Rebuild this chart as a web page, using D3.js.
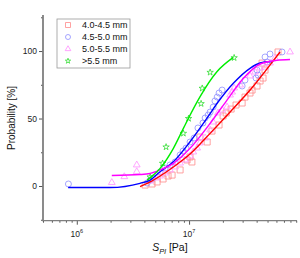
<!DOCTYPE html>
<html><head><meta charset="utf-8">
<script src="https://cdn.jsdelivr.net/npm/d3@7"></script>
<style>body{margin:0;background:#fff}svg{display:block;font-family:"Liberation Sans",Arial,sans-serif}</style>
</head><body>
<script>
// values: x in MPa (×1e6 Pa), y in %
const seriesNames = ["4.0-4.5 mm","4.5-5.0 mm","5.0-5.5 mm",">5.5 mm"];
const redX = [4.06,4.68,5.19,5.87,6.50,7.06,8.32,9.60,10.2,10.6,12.5,14.5,16.0,18.5,20.1,21.4,23.7,26.2,29.7,31.5,34.9,36.4,40.3,42.9,45.6,47.5,44.7,62.0];
const redY = [0.7,1.5,3.0,5.2,7.4,8.1,11.9,19.3,21.5,17.8,36.3,32.6,40.7,45.2,51.9,54.1,57.0,60.0,61.5,65.9,68.9,71.1,74.1,77.8,80.0,85.9,91.1,99.3];
const blueX = [0.842,4.23,4.50,4.78,5.52,6.11,6.77,7.51,8.32,8.84,9.40,10.2,11.1,12.0,13.3,13.9,14.8,15.4,16.4,17.0,17.8,18.5,19.7,29.7,31.5,39.5,41.2,40.3,47.5,49.5,52.6,67.3];
const blueY = [1.5,2.2,4.4,5.9,10.4,13.3,15.6,17.8,23.0,25.9,28.1,32.6,35.6,43.0,46.7,50.4,52.6,54.8,58.5,63.0,65.9,68.9,71.1,74.1,78.5,80.0,82.2,85.9,95.6,91.9,97.8,99.3];
const magX = [2.05,2.65,3.42,3.42,4.50,5.08,5.52,6.11,6.77,7.51,8.32,9.21,10.2,10.9,11.8,12.5,13.9,15.4,16.4,18.1,19.7,21.8,23.2,24.2,25.2,28.5,34.9,38.7,42.9,47.5,52.6,58.3,79.3];
const magY = [2.6,6.9,10.6,15.6,3.7,5.9,7.4,9.6,11.9,14.1,17.0,19.3,22.2,25.2,28.1,31.9,35.6,41.5,47.4,54.1,56.3,58.5,67.4,69.6,72.6,74.8,81.5,84.4,87.4,88.1,91.1,94.8,99.3];
const greenX = [4.50,5.81,6.24,8.90,9.90,12.8,13.1,15.4,25.2];
const greenY = [6.7,16.8,28.9,39.0,50.0,61.0,72.4,84.2,95.0];
// fitted curves
const redFitX = [3.66,4.50,5.52,7.25,10.2,15.4,23.2,36.2,48.5,64.6];
const redFitY = [-0.4,3.0,7.4,14.1,23.7,39.0,54.8,72.6,85.9,99.3];
const blueFitX = [0.837,1.98,3.66,4.50,5.52,7.25,10.2,14.4,18.2,24.8,34.9,42.9,54.5];
const blueFitY = [-1.1,-1.1,2.0,4.4,10.6,18.0,32.8,50.1,62.4,76.1,87.2,91.1,92.2];
const magFitX = [2.05,3.66,4.50,5.52,7.25,10.2,15.4,21.7,30.4,42.9,60.4,79.3];
const magFitY = [7.8,8.5,9.3,11.9,16.8,27.9,46.4,63.5,79.6,90.4,93.1,93.7];
const greenFitX = [4.23,5.52,7.25,8.90,9.86,12.5,17.7,24.8];
const greenFitY = [4.4,13.1,27.9,42.7,50.1,66.1,84.7,95.3];
const yTicks = [0,50,100];
const yMinor = [-25,25,75,125];
const xTickExps = [6,7];

const W=300,H=258;
const svg=d3.select("body").append("svg").attr("width",W).attr("height",H);
const x=d3.scaleLog().domain([0.5e6,9.15e7]).range([43,297]);
const y=d3.scaleLinear().domain([-25.7,126.7]).range([220.7,15]);
const axisCol="#7f7f7f";

const series=[
 {name:seriesNames[0],xs:redX,ys:redY,fx:redFitX,fy:redFitY,line:"#ff0000",mk:"#ff8a8a",sym:"square"},
 {name:seriesNames[1],xs:blueX,ys:blueY,fx:blueFitX,fy:blueFitY,line:"#0000ff",mk:"#8f8fff",sym:"circle"},
 {name:seriesNames[2],xs:magX,ys:magY,fx:magFitX,fy:magFitY,line:"#ff00ff",mk:"#ff8fff",sym:"triangle"},
 {name:seriesNames[3],xs:greenX,ys:greenY,fx:greenFitX,fy:greenFitY,line:"#00ee00",mk:"#33dd33",sym:"star"}
];
function symPath(sym,s){
  if(sym==="square") return d3.symbol(d3.symbolSquare,s*s)();
  if(sym==="circle") return d3.symbol(d3.symbolCircle,Math.PI*s*s/4)();
  if(sym==="triangle") return d3.symbol(d3.symbolTriangle,s*s*0.55)();
  return d3.symbol(d3.symbolStar,s*s*0.35)();
}
const plot=svg.append("g");
series.forEach(sr=>{
  const pts=sr.xs.map((v,i)=>[v*1e6,sr.ys[i]]);
  plot.append("g").selectAll("path").data(pts).join("path")
    .attr("d",symPath(sr.sym,6))
    .attr("transform",d=>`translate(${x(d[0])},${y(d[1])})`)
    .attr("fill","none").attr("stroke",sr.mk).attr("stroke-width",0.8);
});
series.forEach(sr=>{
  const fp=sr.fx.map((v,i)=>[v*1e6,sr.fy[i]]);
  plot.append("path").datum(fp)
    .attr("d",d3.line().x(d=>x(d[0])).y(d=>y(d[1])).curve(d3.curveMonotoneX))
    .attr("fill","none").attr("stroke",sr.line).attr("stroke-width",1.4);
});

// y axis
const ya=svg.append("g").attr("transform","translate(43,0)");
ya.call(d3.axisLeft(y).tickValues(yTicks).tickSize(4).tickPadding(2).tickFormat(d3.format("d")));
ya.append("g").call(d3.axisLeft(y).tickValues(yMinor).tickSize(2).tickFormat(""));
ya.selectAll(".domain").remove();
ya.append("line").attr("x1",0).attr("x2",0).attr("y1",15).attr("y2",221).attr("stroke",axisCol).attr("stroke-width",1.8);
ya.selectAll(".tick line").attr("stroke","#555");
ya.selectAll(".tick text").attr("font-size",8.5).attr("fill","#222").attr("font-family","Liberation Sans, Arial");

// x axis
const xminor=[];
for(let e=5;e<=7;e++){for(let m=1;m<=9;m++){const v=m*Math.pow(10,e);if(v>=0.5e6&&v<=9.15e7&&m!==1)xminor.push(v);}}
const xa=svg.append("g").attr("transform","translate(0,220.7)");
xa.call(d3.axisBottom(x).tickValues(xTickExps.map(e=>Math.pow(10,e))).tickSize(4).tickPadding(3).tickFormat(""));
xa.append("g").call(d3.axisBottom(x).tickValues(xminor).tickSize(2).tickFormat(""));
xa.selectAll(".domain").remove();
xa.append("line").attr("x1",42).attr("x2",297).attr("y1",0).attr("y2",0).attr("stroke",axisCol).attr("stroke-width",1.2);
xa.selectAll(".tick line").attr("stroke","#555");
xTickExps.forEach(e=>{
  const t=xa.append("text").attr("x",x(Math.pow(10,e))).attr("y",16).attr("text-anchor","middle")
    .attr("font-size",8.5).attr("fill","#222");
  t.append("tspan").text("10");
  t.append("tspan").attr("dy",-3.5).attr("font-size",5.5).text(e);
});

// axis titles
const xt=svg.append("text").attr("x",170).attr("y",251).attr("text-anchor","middle").attr("font-size",10.5).attr("fill","#111");
xt.append("tspan").attr("font-style","italic").text("S");
xt.append("tspan").attr("font-style","italic").attr("font-size",7.5).attr("dy",2.5).text("Pl");
xt.append("tspan").attr("dy",-2.5).text(" [Pa]");
svg.append("text").attr("transform","translate(15,118) rotate(-90)").attr("text-anchor","middle")
  .attr("font-size",10).attr("fill","#111").text("Probability [%]");

// legend
const lg=svg.append("g");
lg.append("rect").attr("x",57).attr("y",19).attr("width",73).attr("height",49).attr("fill","#fff").attr("stroke","#999").attr("stroke-width",0.8);
series.forEach((sr,i)=>{
  const yy=25+i*12;
  lg.append("path").attr("d",symPath(sr.sym,5)).attr("transform",`translate(68,${yy})`)
    .attr("fill","none").attr("stroke",sr.mk).attr("stroke-width",0.8);
  lg.append("text").attr("x",82).attr("y",yy+3.2).attr("font-size",9).attr("fill","#111").text(sr.name);
});
</script>
</body></html>
